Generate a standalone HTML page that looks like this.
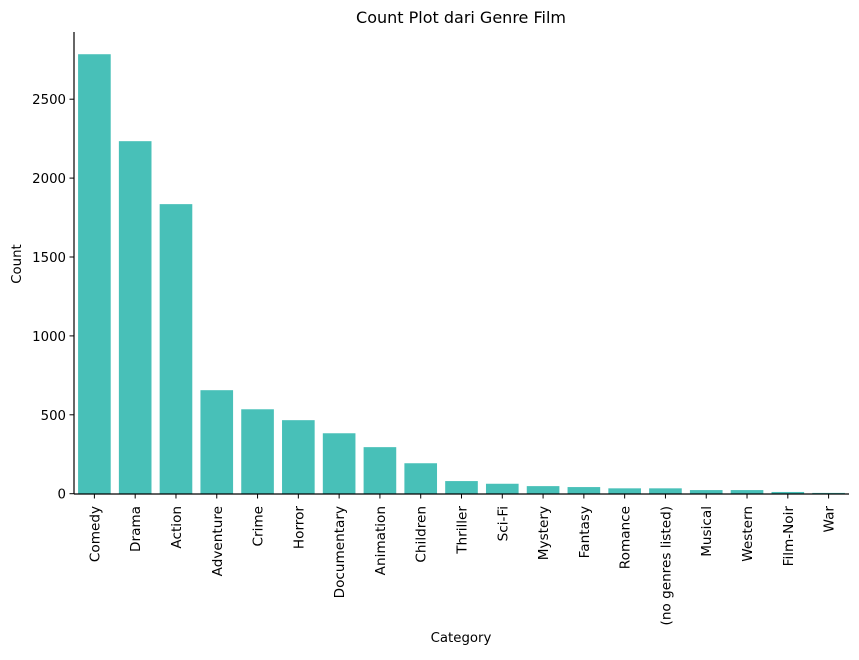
<!DOCTYPE html>
<html><head><meta charset="utf-8"><style>
body{margin:0;background:#fff}
svg{font-family:"DejaVu Sans","Liberation Sans",sans-serif;}
</style></head><body>
<svg id="chart" width="859" height="655">
<text x="461" y="23" font-size="16" text-anchor="middle" fill="#000">Count Plot dari Genre Film</text>
<text x="461" y="642" font-size="13.3" text-anchor="middle" fill="#000">Category</text>
<text transform="translate(21,264) rotate(-90)" font-size="13.3" text-anchor="middle" fill="#000">Count</text>
<g id="bars"></g><g id="yaxis"></g><g id="xaxis"></g>
<line x1="74" y1="32" x2="74" y2="494" stroke="#000" stroke-width="1.2"/>
<line x1="74" y1="494" x2="849" y2="494" stroke="#000" stroke-width="1.2"/>
</svg>
<script>
const categories=["Comedy","Drama","Action","Adventure","Crime","Horror","Documentary","Animation","Children","Thriller","Sci-Fi","Mystery","Fantasy","Romance","(no genres listed)","Musical","Western","Film-Noir","War"];
const counts=[2785,2234,1835,656,535,466,383,295,193,80,63,48,42,34,34,23,23,11,5];
const yTicks=[0,500,1000,1500,2000,2500];
const NS="http://www.w3.org/2000/svg";
const x0=74,x1=849,y0=493.7,pxPerUnit=0.1578;
const band=(x1-x0)/categories.length;
function xPos(i){return x0+band*i;}
function yPos(v){return y0-v*pxPerUnit;}
function mk(t,a,p){const e=document.createElementNS(NS,t);for(const k in a)e.setAttribute(k,a[k]);p.appendChild(e);return e;}
const bars=document.getElementById('bars'),ya=document.getElementById('yaxis'),xa=document.getElementById('xaxis');
categories.forEach((c,i)=>{
  const r=mk('rect',{x:xPos(i)+band*0.1,y:yPos(counts[i]),width:band*0.8,height:y0-yPos(counts[i]),fill:'#48c0b8'},bars);
  
  
  const cx=xPos(i)+band/2;
  const tk=mk('line',{x1:cx,y1:494,x2:cx,y2:498.5,stroke:'#000','stroke-width':1},xa);
  
  
  const t=mk('text',{transform:`translate(${cx+5},506) rotate(-90)`,'font-size':13.6,'text-anchor':'end',fill:'#000'},xa);
  t.textContent=c;
  
  
});
yTicks.forEach(v=>{
  const y=yPos(v);
  const tk=mk('line',{x1:69.5,y1:y,x2:74,y2:y,stroke:'#000','stroke-width':1},ya);
  
  
  const t=mk('text',{x:66,y:y+5,'font-size':13.3,'text-anchor':'end',fill:'#000'},ya);
  t.textContent=v;
  
  
});
</script>
</body></html>
